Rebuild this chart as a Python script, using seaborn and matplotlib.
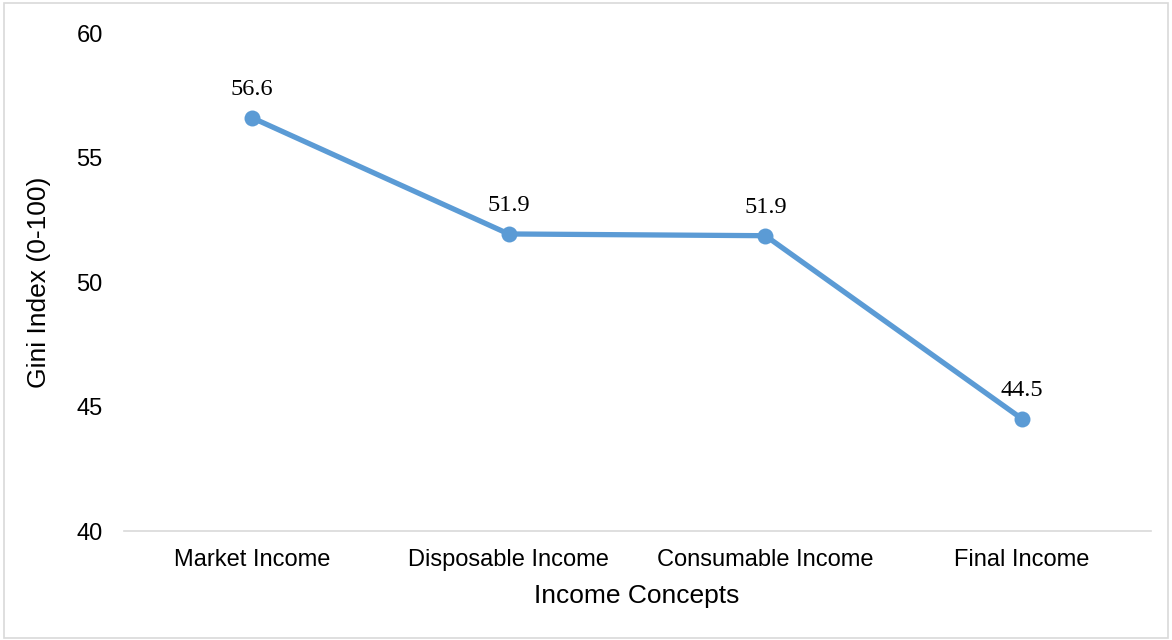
import matplotlib
matplotlib.use("Agg")
import matplotlib.pyplot as plt
import seaborn as sns
import pandas as pd

categories = ["Market Income", "Disposable Income", "Consumable Income", "Final Income"]
gini = [56.6, 51.93, 51.86, 44.5]
y_ticks = [40, 45, 50, 55, 60]

sns.set_theme(style="white")
plt.rcParams['font.family'] = ['Liberation Sans', 'DejaVu Sans']

df = pd.DataFrame({"concept": categories, "gini": gini})

fig = plt.figure(figsize=(11.72, 6.4), dpi=100)
ax = fig.add_axes([0.1054, 0.1703, 0.8763, 0.7781])

color = "#5B9BD5"
sns.lineplot(data=df, x="concept", y="gini", ax=ax, color=color, linewidth=3.8,
             marker="o", markersize=11.5, markeredgewidth=0, sort=False)

for i, v in enumerate(gini):
    ax.annotate(f"{v:.1f}", (i, v), xytext=(0, 13), textcoords="offset points",
                ha="center", va="bottom", fontsize=17.5,
                family=['Liberation Serif', 'DejaVu Serif'], color="#000000")

ax.set_ylim(40, 60)
ax.set_xlim(-0.5, 3.5)
ax.set_yticks(y_ticks)
ax.set_yticklabels([str(t) for t in y_ticks], fontsize=17, color="#000000")
ax.tick_params(axis='x', labelsize=17, colors="#000000", length=0, pad=13)
ax.tick_params(axis='y', length=0, pad=15)
ax.set_xlabel("Income Concepts", fontsize=19, color="#000000", labelpad=9)
ax.set_ylabel("Gini Index (0-100)", fontsize=19, color="#000000", labelpad=18)

for s in ["top", "right", "left"]:
    ax.spines[s].set_visible(False)
ax.spines["bottom"].set_color("#D9D9D9")
ax.spines["bottom"].set_linewidth(1.2)
ax.grid(False)

fig.patches.append(plt.Rectangle((0.003, 0.003), 0.994, 0.992, transform=fig.transFigure,
                                 fill=False, edgecolor="#D9D9D9", linewidth=1.2))

fig.savefig("out.png", dpi=100)
